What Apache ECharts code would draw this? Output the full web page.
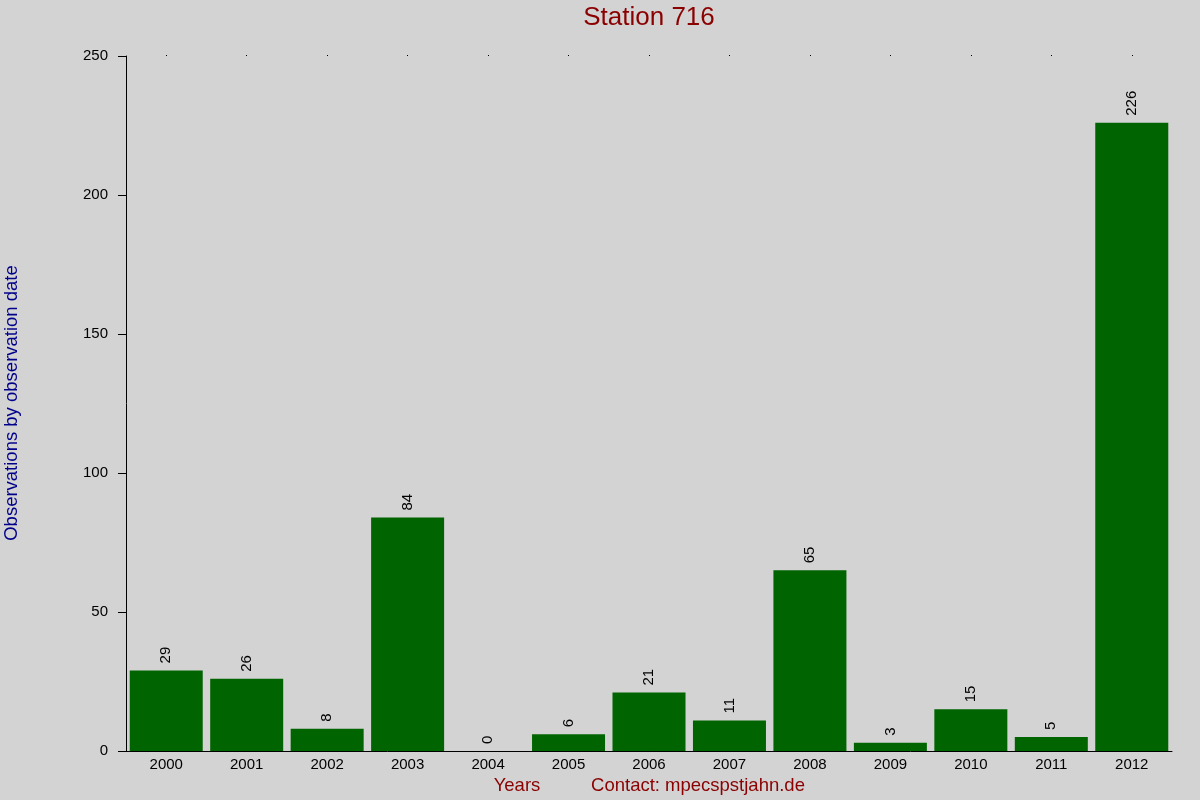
<!DOCTYPE html>
<html><head><meta charset="utf-8">
<script src="https://cdn.jsdelivr.net/npm/echarts@6/dist/echarts.min.js"></script>
<style>html,body{margin:0;padding:0;background:#d3d3d3;}#c{width:1200px;height:800px;}</style>
</head><body><div id="c"></div>
<script>
const years = ['2000','2001','2002','2003','2004','2005','2006','2007','2008','2009','2010','2011','2012'];
const counts = [29,26,8,84,0,6,21,11,65,3,15,5,226];
const yTicks = {min:0,max:250,interval:50};
const chart = echarts.init(document.getElementById('c'));
const font = 'Liberation Sans, Arial, sans-serif';
chart.setOption({
  backgroundColor:'#d3d3d3',
  animation:false,
  grid:{left:126,right:28,top:56,bottom:49},
  xAxis:[{type:'category',data:years,
    axisLine:{lineStyle:{color:'#000',width:1}},
    axisTick:{show:false},
    axisLabel:{color:'#000',fontSize:15,fontFamily:font,margin:6}},
   {type:'category',data:years,position:'top',
    axisLine:{show:false},
    axisTick:{show:true,alignWithLabel:true,length:1,lineStyle:{color:'#000'}},
    axisLabel:{show:false}}],
  yAxis:{type:'value',min:yTicks.min,max:yTicks.max,interval:yTicks.interval,
    axisLine:{show:true,lineStyle:{color:'#000'}},
    axisTick:{show:true,length:8,lineStyle:{color:'#000'}},
    splitLine:{show:false},
    axisLabel:{color:'#000',fontSize:15,fontFamily:font,margin:18}},
  graphic:[
    {type:'text',x:649,y:18,style:{text:'Station 716',fill:'#8b0000',font:'26px '+font,textAlign:'center',textVerticalAlign:'middle'}},
    {type:'text',x:2,y:403,rotation:Math.PI/2,style:{text:'Observations by observation date',fill:'#00008b',font:'18.5px '+font,textAlign:'center',textVerticalAlign:'top'}},
    {type:'text',x:517,y:786,style:{text:'Years',fill:'#8b0000',font:'18.5px '+font,textAlign:'center',textVerticalAlign:'middle'}},
    {type:'text',x:698,y:786,style:{text:'Contact: mpecspstjahn.de',fill:'#8b0000',font:'18.5px '+font,textAlign:'center',textVerticalAlign:'middle'}}
  ],
  series:[{type:'bar',data:counts,barWidth:73,itemStyle:{color:'#006400'},
    label:{show:true,position:'top',rotate:90,distance:7,color:'#000',fontSize:15,fontFamily:font,align:'left',verticalAlign:'middle'}}]
});
</script></body></html>
